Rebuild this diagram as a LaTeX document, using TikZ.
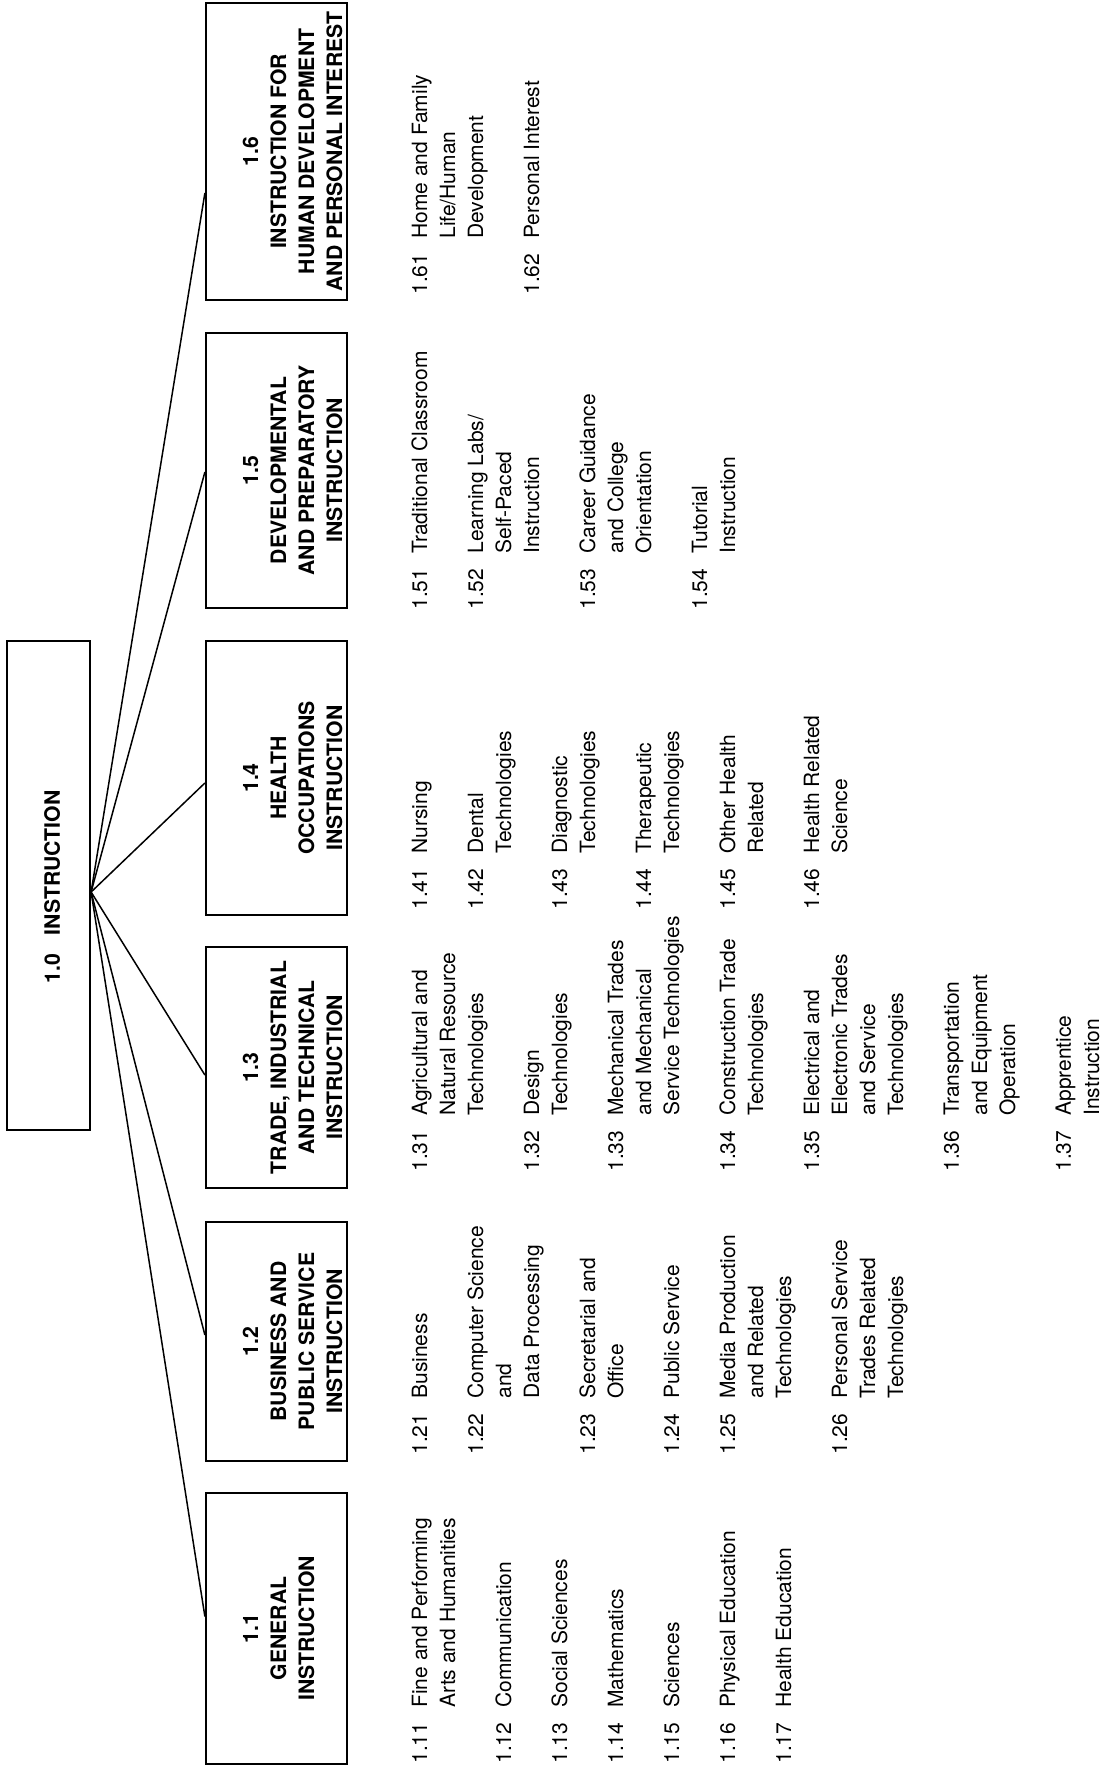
\documentclass[tikz,border=0pt]{standalone}
\usepackage{fontspec}
\setmainfont{TeX Gyre Heros}
\usetikzlibrary{calc}
\begin{document}
\begin{tikzpicture}[x=0.5pt,y=-0.5pt,
  box/.style={draw, line width=1.1pt, inner sep=0pt, minimum width=70.5pt},
  conn/.style={line width=0.75pt},
  lbl/.style={rotate=90, anchor=base, inner sep=0pt, font=\fontsize{10.6}{14}\selectfont\bfseries},
  items/.style={rotate=90, anchor=base west, inner sep=0pt, font=\fontsize{10.5}{14}\selectfont},
]
\useasboundingbox (0,0) rectangle (1114,1769);

% root
\node[draw, line width=1.1pt, inner sep=0pt, minimum width=41.5pt, minimum height=244.5pt] (root) at (48.5,885.5) {};
\node[lbl] (rootlbl) at (60,887) {1.0\hspace{0.9em}INSTRUCTION};

% category boxes
\node[box, minimum height=135.5pt] (b1) at (276.5,1628.5) {};
\node[box, minimum height=119.5pt] (b2) at (276.5,1341.5) {};
\node[box, minimum height=120.5pt] (b3) at (276.5,1067.5) {};
\node[box, minimum height=137pt]   (b4) at (276.5,778) {};
\node[box, minimum height=137.5pt] (b5) at (276.5,470.5) {};
\node[box, minimum height=148.5pt] (b6) at (276.5,151.5) {};

\node[lbl] (t1) at (258,1628.5) {\begin{tabular}[t]{@{}c@{}}1.1\\GENERAL\\INSTRUCTION\end{tabular}};
\node[lbl] (t2) at (258,1341.5) {\begin{tabular}[t]{@{}c@{}}1.2\\BUSINESS AND\\PUBLIC SERVICE\\INSTRUCTION\end{tabular}};
\node[lbl] (t3) at (258,1067.5) {\begin{tabular}[t]{@{}c@{}}1.3\\TRADE, INDUSTRIAL\\AND TECHNICAL\\INSTRUCTION\end{tabular}};
\node[lbl] (t4) at (258,778) {\begin{tabular}[t]{@{}c@{}}1.4\\HEALTH\\OCCUPATIONS\\INSTRUCTION\end{tabular}};
\node[lbl] (t5) at (258,470.5) {\begin{tabular}[t]{@{}c@{}}1.5\\DEVELOPMENTAL\\AND PREPARATORY\\INSTRUCTION\end{tabular}};
\node[lbl] (t6) at (258,151.5) {\begin{tabular}[t]{@{}c@{}}1.6\\INSTRUCTION FOR\\HUMAN DEVELOPMENT\\AND PERSONAL INTEREST\end{tabular}};

% connectors
\coordinate (apex) at ($(root.east)+(0,6.5)$);
\draw[conn] (apex) -- ($(b1.west)+(0,-12)$);
\draw[conn] (apex) -- ($(b2.west)+(0,-6.5)$);
\draw[conn] (apex) -- ($(b3.west)+(0,7.5)$);
\draw[conn] (apex) -- ($(b4.west)+(0,5)$);
\draw[conn] (apex) -- ($(b5.west)+(0,1.5)$);
\draw[conn] (apex) -- ($(b6.west)+(0,41.5)$);

% item lists
\node[items] (g1) at (427,1764) {\begin{tabular}[t]{@{}p{28pt}@{}l@{}}
1.11 & Fine and Performing\\ & Arts and Humanities\\[14pt]
1.12 & Communication\\[14pt]
1.13 & Social Sciences\\[14pt]
1.14 & Mathematics\\[14pt]
1.15 & Sciences\\[14pt]
1.16 & Physical Education\\[14pt]
1.17 & Health Education
\end{tabular}};

\node[items] (g2) at (427,1455) {\begin{tabular}[t]{@{}p{28pt}@{}l@{}}
1.21 & Business\\[14pt]
1.22 & Computer Science\\ & and\\ & Data Processing\\[14pt]
1.23 & Secretarial and\\ & Office\\[14pt]
1.24 & Public Service\\[14pt]
1.25 & Media Production\\ & and Related\\ & Technologies\\[14pt]
1.26 & Personal Service\\ & Trades Related\\ & Technologies
\end{tabular}};

\node[items] (g3) at (427,1172) {\begin{tabular}[t]{@{}p{28pt}@{}l@{}}
1.31 & Agricultural and\\ & Natural Resource\\ & Technologies\\[14pt]
1.32 & Design\\ & Technologies\\[14pt]
1.33 & Mechanical Trades\\ & and Mechanical\\ & Service Technologies\\[14pt]
1.34 & Construction Trade\\ & Technologies\\[14pt]
1.35 & Electrical and\\ & Electronic Trades\\ & and Service\\ & Technologies\\[14pt]
1.36 & Transportation\\ & and Equipment\\ & Operation\\[14pt]
1.37 & Apprentice\\ & Instruction
\end{tabular}};

\node[items] (g4) at (427,910) {\begin{tabular}[t]{@{}p{28pt}@{}l@{}}
1.41 & Nursing\\[14pt]
1.42 & Dental\\ & Technologies\\[14pt]
1.43 & Diagnostic\\ & Technologies\\[14pt]
1.44 & Therapeutic\\ & Technologies\\[14pt]
1.45 & Other Health\\ & Related\\[14pt]
1.46 & Health Related\\ & Science
\end{tabular}};

\node[items] (g5) at (427,610) {\begin{tabular}[t]{@{}p{28pt}@{}l@{}}
1.51 & Traditional Classroom\\[14pt]
1.52 & Learning Labs/\\ & Self-Paced\\ & Instruction\\[14pt]
1.53 & Career Guidance\\ & and College\\ & Orientation\\[14pt]
1.54 & Tutorial\\ & Instruction
\end{tabular}};

\node[items] (g6) at (427,295) {\begin{tabular}[t]{@{}p{28pt}@{}l@{}}
1.61 & Home and Family\\ & Life/Human\\ & Development\\[14pt]
1.62 & Personal Interest
\end{tabular}};
\end{tikzpicture}
\end{document}
